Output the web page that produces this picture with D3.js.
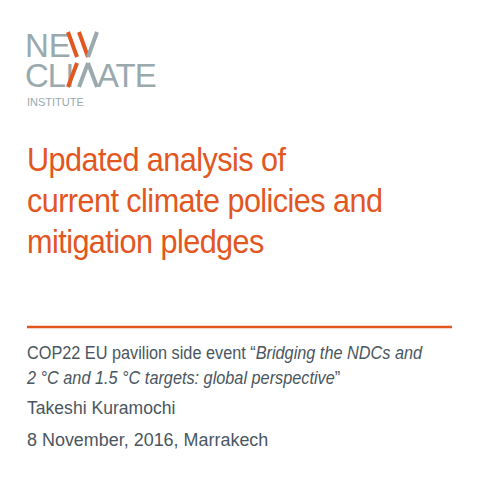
<!DOCTYPE html>
<html><head><meta charset="utf-8">
<script src="https://cdn.jsdelivr.net/npm/d3@7"></script>
<style>body{margin:0;background:#fff}</style>
</head><body><div id="container"></div>
<script>
const titleLines = ["Updated analysis of", "current climate policies and", "mitigation pledges"];
const eventLines = [
  [{t: "COP22 EU pavilion side event \u201c", i: false}, {t: "Bridging the NDCs and", i: true}],
  [{t: "2 \u00b0C and 1.5 \u00b0C targets: global perspective", i: true}, {t: "\u201d", i: false}]
];
const author = "Takeshi Kuramochi";
const dateLine = "8 November, 2016, Marrakech";

const orange = "#e2561f", grey = "#9aa9ae", text = "#4a5660";
const font = "Liberation Sans, Arial, sans-serif";

const svg = d3.select("#container").append("svg")
  .attr("width", 480).attr("height", 480);

// logo
const logo = svg.append("g").attr("font-family", font).attr("fill", grey);
logo.append("text").attr("x", 25).attr("y", 57).attr("font-size", 33).text("NE");
logo.append("text").attr("x", 25).attr("y", 87).attr("font-size", 33).attr("letter-spacing", -1).text("CLI");
logo.append("text").attr("x", 97).attr("y", 87).attr("font-size", 33).attr("letter-spacing", -1).text("ATE");
logo.append("text").attr("x", 27).attr("y", 106).attr("font-size", 11).text("INSTITUTE");
const strokes = [
  [68, 32, 77, 57, orange], [79, 32, 88, 57, orange], [88, 57, 97, 32, grey],
  [68, 87, 77, 63, orange], [79, 87, 88, 63, grey], [88, 63, 97, 87, grey]
];
logo.selectAll("line").data(strokes).join("line")
  .attr("x1", d => d[0]).attr("y1", d => d[1]).attr("x2", d => d[2]).attr("y2", d => d[3])
  .attr("stroke", d => d[4]).attr("stroke-width", 4);

// title (narrow face, emulated by horizontal scaling)
svg.append("g").attr("transform", "translate(27,0) scale(0.9,1)")
  .selectAll("text").data(titleLines).join("text")
  .attr("x", 0).attr("y", (d, i) => 171 + i * 41)
  .attr("font-family", font)
  .attr("font-size", 34).attr("fill", orange).attr("letter-spacing", -0.6)
  .text(d => d);

svg.append("line").attr("x1", 27).attr("x2", 452).attr("y1", 327).attr("y2", 327)
  .attr("stroke", orange).attr("stroke-width", 2.5);

const sub = svg.append("g").attr("font-family", font)
  .attr("font-size", 18.5).attr("fill", text);
eventLines.forEach((parts, i) => {
  const t = sub.append("text").attr("transform", `translate(27,${359 + i * 25}) scale(0.88,1)`);
  parts.forEach(p => t.append("tspan").attr("font-style", p.i ? "italic" : "normal").text(p.t));
});
sub.append("text").attr("transform", "translate(27,414) scale(0.95,1)").text(author);
sub.append("text").attr("transform", "translate(27,446) scale(0.97,1)").text(dateLine);
</script>
</body></html>
